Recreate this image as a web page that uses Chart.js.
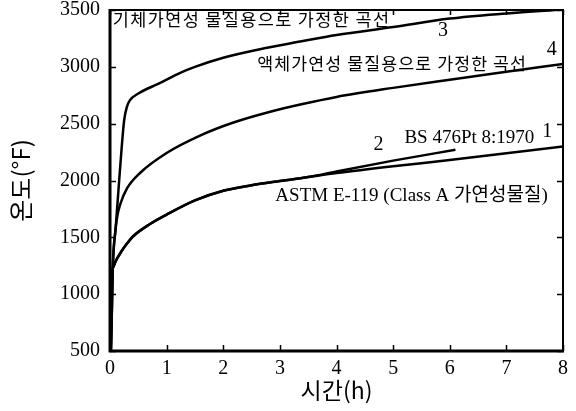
<!DOCTYPE html>
<html>
<head>
<meta charset="utf-8">
<script src="https://cdn.jsdelivr.net/npm/chart.js@4.4.1/dist/chart.umd.min.js"></script>
<style>
html,body{margin:0;padding:0;background:#fff;}
#wrap{width:576px;height:411px;}
</style>
</head>
<body>
<div id="wrap"><canvas id="c" width="576" height="411"></canvas></div>
<script>
// ---- tick values ----
const xTickValues = [0, 1, 2, 3, 4, 5, 6, 7, 8];
const yTickValues = [500, 1000, 1500, 2000, 2500, 3000, 3500];

// ---- curve 1: ASTM E-119 ----
const hoursASTM = [0, 0.04, 0.06, 0.1, 0.2, 0.3, 0.4, 0.7, 1, 1.5, 2, 2.5, 3, 3.5, 4, 5, 6, 7, 8];
const tempASTM  = [68, 1200, 1240, 1290, 1375, 1445, 1505, 1615, 1700, 1825, 1910, 1958, 1995, 2030, 2065, 2125, 2180, 2240, 2300];

// ---- curve 2: BS 476 Pt 8:1970 ----
const hoursBS = [0, 0.04, 0.06, 0.1, 0.2, 0.3, 0.4, 0.7, 1, 1.5, 2, 2.5, 3, 3.5, 4, 5, 6.1];
const tempBS  = [68, 1200, 1240, 1290, 1375, 1445, 1505, 1615, 1700, 1825, 1910, 1958, 1995, 2030, 2080, 2175, 2270];

// ---- curve 3: gas-fuel materials ----
const hoursGas = [0, 0.05, 0.1, 0.15, 0.2, 0.25, 0.3, 0.35, 0.5, 0.85, 1.25, 1.5, 2, 2.65, 3.36, 4, 5, 6, 7, 8];
const tempGas  = [68, 1240, 1580, 1920, 2250, 2530, 2650, 2705, 2765, 2850, 2950, 3000, 3080, 3155, 3222, 3280, 3350, 3425, 3470, 3505];

// ---- curve 4: liquid-fuel materials ----
const hoursLiq = [0, 0.05, 0.1, 0.13, 0.18, 0.3, 0.53, 1, 1.59, 2.18, 2.83, 3.36, 4, 5, 6, 7, 8];
const tempLiq  = [68, 1240, 1580, 1690, 1790, 1930, 2066, 2242, 2395, 2510, 2605, 2668, 2735, 2815, 2887, 2957, 3025];

// ---- texts ----
const xTitle = '시간(h)';
const yTitle = '온도(°F)';
const annotations = [
  {text: '기체가연성 물질용으로 가정한 곡선', x: 0.05, y: 3422, font: '17.5px "Noto Sans CJK KR"', spacing: '1.35px', align: 'left'},
  {text: '3', x: 5.88, y: 3316, font: '20px "Liberation Serif"', spacing: '0px', align: 'center'},
  {text: '4', x: 7.8, y: 3149, font: '20px "Liberation Serif"', spacing: '0px', align: 'center'},
  {text: '액체가연성 물질용으로 가정한 곡선', x: 2.6, y: 3026, font: '17.3px "Noto Sans CJK KR"', spacing: '1.1px', align: 'left'},
  {text: '2', x: 4.74, y: 2313, font: '20px "Liberation Serif"', spacing: '0px', align: 'center'},
  {text: 'BS 476Pt 8:1970', x: 5.2, y: 2374, font: '19px "Liberation Serif"', spacing: '0px', align: 'left'},
  {text: '1', x: 7.72, y: 2427, font: '20px "Liberation Serif"', spacing: '0px', align: 'center'},
  {text: 'ASTM E-119 (Class A 가연성물질)', x: 2.92, y: 1864, font: '19px "Liberation Serif", "Noto Sans CJK KR"', spacing: '0px', align: 'left'}
];

const toPoints = (xs, ys) => xs.map((v, i) => ({x: v, y: ys[i]}));

function lineDataset(label, xs, ys) {
  return {
    label: label,
    data: toPoints(xs, ys),
    borderColor: '#000',
    borderWidth: 2.5,
    pointRadius: 0,
    fill: false,
    cubicInterpolationMode: 'monotone'
  };
}

const framePlugin = {
  id: 'frameAndText',
  afterDatasetsDraw(chart) {
    const {ctx, chartArea: a, scales: {x, y}} = chart;
    ctx.save();
    ctx.strokeStyle = '#000';
    ctx.lineCap = 'butt';
    ctx.lineWidth = 1.5;
    ctx.beginPath();
    x.ticks.forEach(t => {
      const px = Math.round(x.getPixelForValue(t.value)) + 0.5;
      ctx.moveTo(px, a.bottom); ctx.lineTo(px, a.bottom - 6);
      ctx.moveTo(px, a.top); ctx.lineTo(px, a.top + 5);
    });
    y.ticks.forEach(t => {
      const py = Math.round(y.getPixelForValue(t.value)) + 0.5;
      ctx.moveTo(a.left, py); ctx.lineTo(a.left + 6, py);
      ctx.moveTo(a.right, py); ctx.lineTo(a.right - 6, py);
    });
    ctx.stroke();
    ctx.lineWidth = 2;
    ctx.beginPath();
    ctx.moveTo(a.left, a.top); ctx.lineTo(a.right, a.top); ctx.lineTo(a.right, a.bottom);
    ctx.stroke();
    ctx.lineWidth = 3;
    ctx.beginPath();
    ctx.moveTo(a.left, a.top - 1); ctx.lineTo(a.left, a.bottom); ctx.lineTo(a.right + 1, a.bottom);
    ctx.stroke();
    ctx.fillStyle = '#000';
    ctx.textBaseline = 'middle';
    annotations.forEach(n => {
      ctx.font = n.font;
      if ('letterSpacing' in ctx) ctx.letterSpacing = n.spacing;
      ctx.textAlign = n.align;
      ctx.fillText(n.text, x.getPixelForValue(n.x), y.getPixelForValue(n.y));
    });
    ctx.restore();
  }
};

new Chart(document.getElementById('c'), {
  type: 'line',
  data: {
    datasets: [
      lineDataset('ASTM E-119', hoursASTM, tempASTM),
      lineDataset('BS 476 Pt 8:1970', hoursBS, tempBS),
      lineDataset('기체가연성 물질용', hoursGas, tempGas),
      lineDataset('액체가연성 물질용', hoursLiq, tempLiq)
    ]
  },
  options: {
    responsive: false,
    animation: false,
    devicePixelRatio: 1,
    layout: {padding: {top: 10, right: 13, left: 0, bottom: 0}},
    plugins: {legend: {display: false}, tooltip: {enabled: false}},
    scales: {
      x: {
        type: 'linear',
        min: 0, max: 8,
        afterFit(s) { s.height = 60; s.paddingLeft = 0; s.paddingRight = 0; },
        afterBuildTicks(s) { s.ticks = xTickValues.map(v => ({value: v})); },
        grid: {display: false, drawTicks: false},
        border: {display: false},
        ticks: {color: '#000', padding: 6, maxRotation: 0, callback: v => String(v), font: {family: '"Liberation Serif"', size: 20}},
        title: {display: true, text: xTitle, color: '#000', padding: {top: 0, bottom: 7}, font: {family: '"Noto Sans CJK KR"', size: 23}}
      },
      y: {
        type: 'linear',
        min: 500, max: 3500,
        afterFit(s) { s.width = 110; s.paddingTop = 0; s.paddingBottom = 0; },
        afterBuildTicks(s) { s.ticks = yTickValues.map(v => ({value: v})); },
        grid: {display: false, drawTicks: false},
        border: {display: false},
        ticks: {color: '#000', padding: 10, callback: v => String(v), font: {family: '"Liberation Serif"', size: 20}},
        title: {display: true, text: yTitle, color: '#000', padding: {top: 6, bottom: 0}, font: {family: '"Noto Sans CJK KR"', size: 24}}
      }
    }
  },
  plugins: [framePlugin]
});
</script>
</body>
</html>
